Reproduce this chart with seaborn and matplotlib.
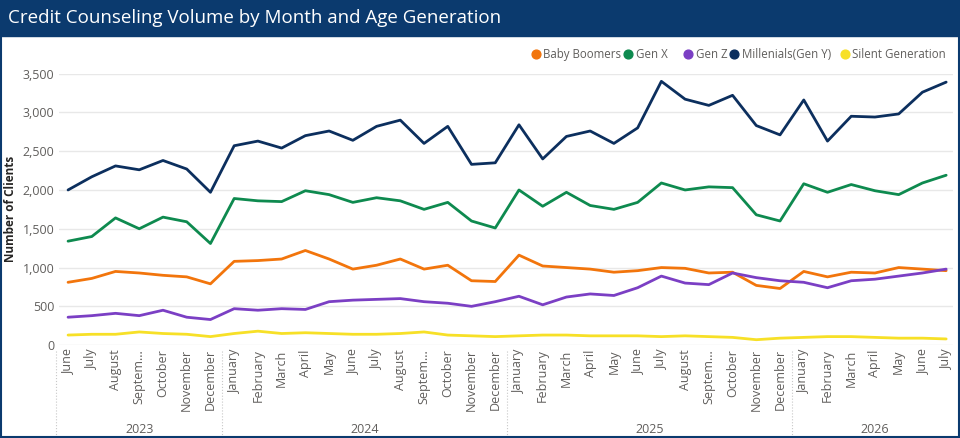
import pandas as pd
import matplotlib.pyplot as plt
import seaborn as sns
from matplotlib.patches import Rectangle

month_names = ["June", "July", "August", "Septem...", "October", "November", "December",
               "January", "February", "March", "April", "May", "June", "July", "August",
               "Septem...", "October", "November", "December"]
months = (month_names[:7] + month_names[7:] + month_names[7:] + month_names[7:14])
months = months[:38]
years = [2023] * 7 + [2024] * 12 + [2025] * 12 + [2026] * 7

millenials = [2000, 2170, 2310, 2260, 2380, 2270, 1970,
              2570, 2630, 2540, 2700, 2760, 2640, 2820, 2900, 2600, 2820, 2330, 2350,
              2840, 2400, 2690, 2760, 2600, 2800, 3400, 3170, 3090, 3220, 2830, 2710,
              3160, 2630, 2950, 2940, 2980, 3260, 3390]
gen_x = [1340, 1400, 1640, 1500, 1650, 1590, 1310,
         1890, 1860, 1850, 1990, 1940, 1840, 1900, 1860, 1750, 1840, 1600, 1510,
         2000, 1790, 1970, 1800, 1750, 1840, 2090, 2000, 2040, 2030, 1680, 1600,
         2080, 1970, 2070, 1990, 1940, 2090, 2190]
boomers = [810, 860, 950, 930, 900, 880, 790,
           1080, 1090, 1110, 1220, 1110, 980, 1030, 1110, 980, 1030, 830, 820,
           1160, 1020, 1000, 980, 940, 960, 1000, 990, 930, 940, 770, 730,
           950, 880, 940, 930, 1000, 980, 960]
gen_z = [360, 380, 410, 380, 450, 360, 330,
         470, 450, 470, 460, 560, 580, 590, 600, 560, 540, 500, 560,
         630, 520, 620, 660, 640, 740, 890, 800, 780, 930, 870, 830,
         810, 740, 830, 850, 890, 930, 980]
silent = [130, 140, 140, 170, 150, 140, 110,
          150, 180, 150, 160, 150, 140, 140, 150, 170, 130, 120, 110,
          120, 130, 130, 120, 120, 120, 110, 120, 110, 100, 70, 90,
          100, 110, 110, 100, 90, 90, 80]

series = {"Baby Boomers": boomers, "Gen X": gen_x, "Gen Z": gen_z,
          "Millenials(Gen Y)": millenials, "Silent Generation": silent}
colors = {"Baby Boomers": "#F2750C", "Gen X": "#0E8A4F", "Gen Z": "#7B3FC4",
          "Millenials(Gen Y)": "#0C2F5E", "Silent Generation": "#F7E027"}

rows = []
for name, vals in series.items():
    for i, v in enumerate(vals):
        rows.append({"idx": i, "Clients": v, "Generation": name})
df = pd.DataFrame(rows)

sns.set_theme(style="white")
plt.rcParams['font.family'] = ['Open Sans', 'DejaVu Sans']

fig = plt.figure(figsize=(9.6, 4.38), dpi=100)
fig.patches.append(Rectangle((0, 0.918), 1, 0.082, transform=fig.transFigure,
                             color="#0B3A6E", zorder=0))
fig.patches.append(Rectangle((0.001, 0.002), 0.998, 0.996, transform=fig.transFigure,
                             fill=False, edgecolor="#0B3A6E", lw=1.5))
fig.text(0.008, 0.958, "Credit Counseling Volume by Month and Age Generation",
         color="white", fontsize=13.5, va="center")

ax = fig.add_axes([0.061, 0.212, 0.932, 0.62])
sns.lineplot(data=df, x="idx", y="Clients", hue="Generation", palette=colors,
             linewidth=2, ax=ax, legend=False)
ax.set_xlim(-0.4, 37.3)
ax.set_ylim(0, 3500)
ax.set_yticks(range(0, 3501, 500))
ax.set_yticklabels([f"{v:,}" for v in range(0, 3501, 500)], fontsize=9, color="#605E5C")
ax.yaxis.grid(True, color="#E8E8E8", lw=1)
ax.set_xticks(range(38))
ax.set_xticklabels(months, rotation=90, fontsize=9, color="#605E5C")
ax.tick_params(axis="both", length=0, pad=3)
ax.set_xlabel("")
ax.set_ylabel("Number of Clients", fontsize=8.5, fontweight="bold", color="#252423")
for s in ax.spines.values():
    s.set_visible(False)

tr = ax.get_xaxis_transform()
for yr in [2023, 2024, 2025, 2026]:
    ids = [i for i, y in enumerate(years) if y == yr]
    ax.text((ids[0] + ids[-1]) / 2, -0.31, str(yr), transform=tr, ha="center",
            va="center", fontsize=9, color="#605E5C")
for b in [-0.5, 6.5, 18.5, 30.5]:
    ax.plot([b, b], [-0.02, -0.38], transform=tr, clip_on=False, color="#C8C8C8",
            lw=0.8, ls=":")

# legend drawn by hand, as in the reference
ax_leg = fig.add_axes([0, 0, 1, 1], facecolor="none")
ax_leg.axis("off")
pos = [0.558, 0.654, 0.717, 0.765, 0.880]
for p, name in zip(pos, series.keys()):
    ax_leg.scatter([p], [0.876], s=40, color=colors[name])
    ax_leg.text(p + 0.008, 0.876, name, va="center", fontsize=8.3, color="#605E5C")
ax_leg.set_xlim(0, 1)
ax_leg.set_ylim(0, 1)

fig.savefig("out.png", dpi=100)
